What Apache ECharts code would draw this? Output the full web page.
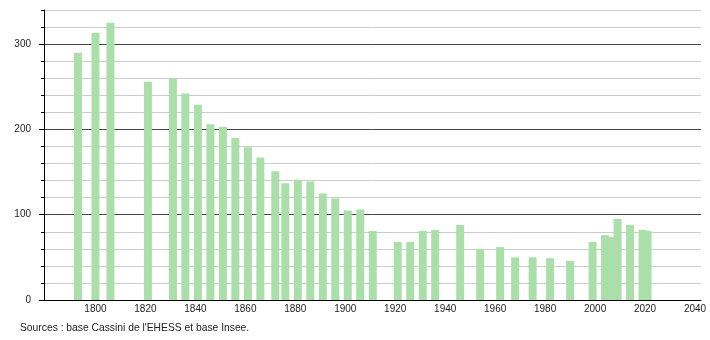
<!DOCTYPE html>
<html>
<head>
<meta charset="utf-8">
<script src="https://cdn.jsdelivr.net/npm/echarts@6/dist/echarts.min.js"></script>
<style>
html,body{margin:0;padding:0;background:#fff;}
#chart{width:710px;height:340px;}
</style>
</head>
<body>
<div id="chart"></div>
<script>
var years = [1793,1800,1806,1821,1831,1836,1841,1846,1851,1856,1861,1866,1872,1876,1881,1886,1891,1896,1901,1906,1911,1921,1926,1931,1936,1946,1954,1962,1968,1975,1982,1990,1999,2004,2006,2009,2014,2019,2021];
var population = [290,313,325,256,259,242,229,206,203,190,179,167,151,137,141,139,125,119,105,106,81,68,68,81,82,88,60,62,50,50,49,46,68,76,74,95,88,82,81];
var xTickLabels = [1800,1820,1840,1860,1880,1900,1920,1940,1960,1980,2000,2020,2040];
var yTickLabels = [0,100,200,300];
var yMinorTicks = [0,20,40,60,80,100,120,140,160,180,200,220,240,260,280,300,320,340];
var sourceText = "Sources : base Cassini de l'EHESS et base Insee.";

var barData = [];
for (var i = years.length - 1; i >= 0; i--) {
  barData.push([years[i], population[i]]);
}

var chart = echarts.init(document.getElementById('chart'), null, {renderer: 'canvas'});
var font = 'Liberation Sans, Arial, sans-serif';
chart.setOption({
  animation: false,
  backgroundColor: '#ffffff',
  grid: {left: 44, top: 10, right: 9, bottom: 40, containLabel: false},
  xAxis: {
    type: 'value', min: 1779.4, max: 2042.4,
    axisLine: {show: true, lineStyle: {color: '#000', width: 1}},
    axisTick: {show: false},
    splitLine: {show: false},
    axisLabel: {customValues: xTickLabels, color: '#222', fontSize: 10, fontFamily: font, margin: 4,
      formatter: function (v) { return String(v); }}
  },
  yAxis: [{
    type: 'value', min: 0, max: 340, interval: 20,
    axisLine: {show: true, lineStyle: {color: '#000', width: 1}},
    axisTick: {show: true, length: 3, customValues: yMinorTicks, lineStyle: {color: '#000'}},
    splitLine: {show: true, lineStyle: {color: ['#444', '#ccc', '#ccc', '#ccc', '#ccc'], width: 1}},
    axisLabel: {customValues: yTickLabels, color: '#222', fontSize: 10, fontFamily: font, margin: 13,
      formatter: function (v) { return String(v); }}
  }, {
    type: 'value', min: 0, max: 340, position: 'left',
    axisLine: {show: false},
    axisTick: {show: true, length: 5, customValues: yTickLabels, lineStyle: {color: '#000'}},
    splitLine: {show: false},
    axisLabel: {show: false}
  }],
  graphic: [{
    type: 'text', left: 20, top: 323,
    style: {text: sourceText, fill: '#222', font: '10.3px ' + font}
  }],
  series: [{
    type: 'bar',
    data: barData,
    barWidth: 8,
    itemStyle: {color: '#aadfaa'},
    silent: true
  }]
});
</script>
</body>
</html>
